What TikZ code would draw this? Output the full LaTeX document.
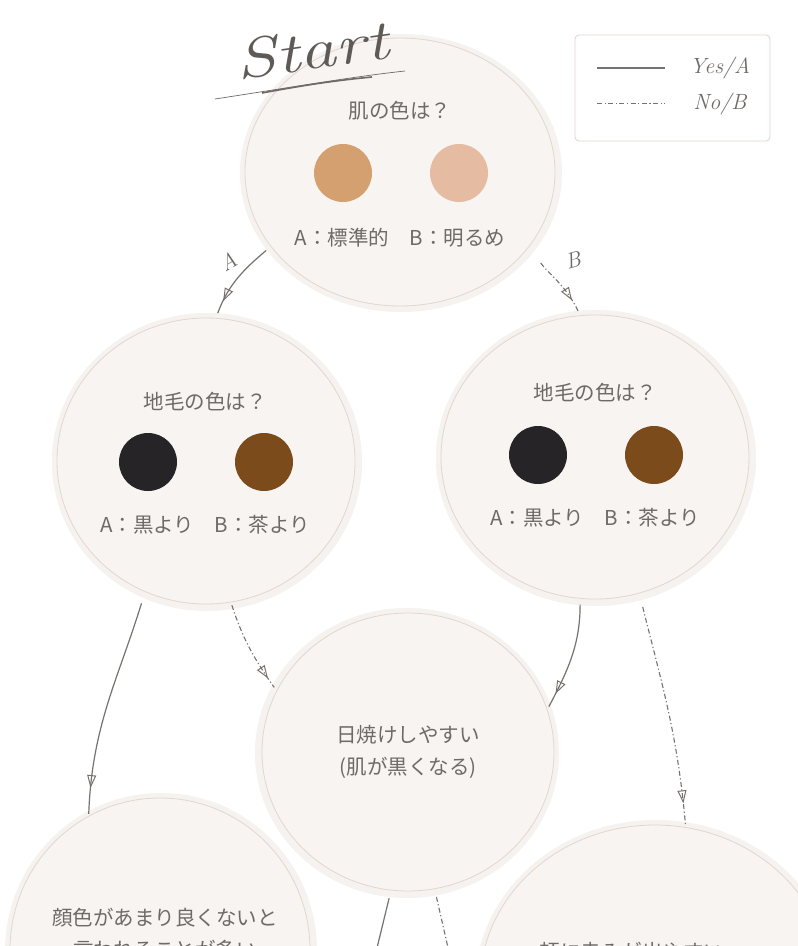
\documentclass[tikz,border=0pt]{standalone}
\usepackage{fontspec}
\newfontfamily\jp{Noto Sans CJK JP}
\usetikzlibrary{shapes.geometric,arrows.meta,decorations.markings}
\definecolor{bubble}{HTML}{F7F4F1}
\definecolor{rim}{HTML}{E3D7CD}
\definecolor{halo}{HTML}{F5F2EF}
\definecolor{ink}{HTML}{6E6A67}
\definecolor{pen}{HTML}{77726D}
\definecolor{skinA}{HTML}{D4A06F}
\definecolor{skinB}{HTML}{E5BCA1}
\definecolor{hairA}{HTML}{262426}
\definecolor{hairB}{HTML}{7B4B1B}
\tikzset{
  bubblebox/.style={ellipse, draw=rim, line width=0.8pt, fill=bubble, inner sep=0pt},
  dotbox/.style={circle, minimum size=58pt, inner sep=0pt},
  txt/.style={font=\jp\fontsize{20.5}{32}\selectfont, text=ink, align=center},
  hand/.style={font=\itshape\fontsize{22}{22}\selectfont, text=ink},
  yesline/.style={draw=pen, line width=1.2pt},
  noline/.style={draw=pen, line width=1.1pt, dash pattern=on 5pt off 2.5pt on 1.2pt off 2.5pt},
  tipat/.style={postaction={decorate}, decoration={markings, mark=at position #1 with {\arrow[solid,line width=1pt]{Triangle[open,length=13pt,width=9pt]}}}}
}
\begin{document}
\begin{tikzpicture}[x=1pt,y=1pt]
\clip (0,0) rectangle (798,-946);
\fill[white] (0,0) rectangle (798,-946);
% halos
\fill[halo] (401,-173) ellipse [x radius=161, y radius=139];
\fill[halo] (207,-462) ellipse [x radius=155, y radius=149];
\fill[halo] (596,-458) ellipse [x radius=160, y radius=148];
\fill[halo] (407,-753) ellipse [x radius=152, y radius=145];
\fill[halo] (161,-951) ellipse [x radius=156, y radius=158];
\fill[halo] (656,-986) ellipse [x radius=181, y radius=166];
% bubbles
\node[bubblebox, minimum width=310pt, minimum height=268pt] (q1) at (400,-172) {};
\node[bubblebox, minimum width=298pt, minimum height=286pt] (l1) at (206,-461) {};
\node[bubblebox, minimum width=308pt, minimum height=284pt] (r1) at (595,-457) {};
\node[bubblebox, minimum width=292pt, minimum height=278pt] (c1) at (408,-752) {};
\node[bubblebox, minimum width=300pt, minimum height=304pt] (b1) at (160,-950) {};
\node[bubblebox, minimum width=350pt, minimum height=320pt] (b2) at (655,-985) {};
% top bubble content
\node[txt] (q1t) at (400,-111) {肌の色は？};
\node[dotbox, fill=skinA] (q1a) at (343,-173) {};
\node[dotbox, fill=skinB] (q1b) at (459,-173) {};
\node[txt] (q1o) at (400,-238) {A：標準的　B：明るめ};
% left
\node[txt] (l1t) at (205,-402) {地毛の色は？};
\node[dotbox, fill=hairA] (l1a) at (148,-462) {};
\node[dotbox, fill=hairB] (l1b) at (264,-462) {};
\node[txt] (l1o) at (205,-525) {A：黒より　B：茶より};
% right
\node[txt] (r1t) at (595,-393) {地毛の色は？};
\node[dotbox, fill=hairA] (r1a) at (538,-455) {};
\node[dotbox, fill=hairB] (r1b) at (654,-455) {};
\node[txt] (r1o) at (595,-518) {A：黒より　B：茶より};
% center
\node[txt] (c1t) at (408,-752) {日焼けしやすい\\(肌が黒くなる)};
% bottom
\node[txt, anchor=north] (b1t) at (165,-905) {顔色があまり良くないと\\言われることが多い};
\node[txt, anchor=north] (b2t) at (632,-939) {頬に赤みが出やすい};
% Start
\node[font=\itshape\fontsize{56}{56}\selectfont, text=ink!85!black, rotate=8, xscale=1.3] (start) at (312,-50) {Start};
\draw[ink, line width=0.7pt] (215,-99) .. controls (300,-86) and (350,-77) .. (405,-71);
\draw[ink, line width=1.6pt] (262,-93) .. controls (300,-86) and (330,-81) .. (372,-77);
% legend
\node[draw=rim, rounded corners=4pt, line width=0.9pt, minimum width=195pt, minimum height=106pt, inner sep=0pt] (leg) at (672.5,-88) {};
\coordinate (ly1) at (597,-68);
\coordinate (ly2) at (665,-68);
\coordinate (ln1) at (597,-103);
\coordinate (ln2) at (665,-103);
\draw[yesline] (ly1) -- (ly2);
\draw[noline, line width=0.9pt] (ln1) -- (ln2);
\node[hand] (yes) at (720,-68) {Yes/A};
\node[hand] (no) at (720,-104) {No/B};
% connectors
\draw[yesline, tipat=0.8, shorten <=6pt, shorten >=5pt] (q1.210) to[out=-140,in=70] (l1.86);
\draw[noline, tipat=0.8, shorten <=20pt, shorten >=3pt] (q1.-30) to[out=-55,in=115] (r1.96);
\draw[yesline, tipat=0.88, shorten <=12pt, shorten >=2pt] (l1.245) to[out=-107,in=88] (b1.118);
\draw[noline, tipat=0.85, shorten <=3pt, shorten >=4pt] (l1.-80) to[out=-72,in=125] (c1.155);
\draw[yesline, tipat=0.85, shorten <=6pt, shorten >=3pt] (r1.264) to[out=-90,in=62] (c1.17.5);
\draw[noline, tipat=0.9, shorten <=14pt, shorten >=1pt] (r1.-72) to[out=-76,in=95] (b2.79);
\coordinate (e1) at (376,-952);
\coordinate (e2) at (449,-952);
\draw[yesline, shorten <=8pt] (c1.263) -- (e1);
\draw[noline, shorten <=8pt] (c1.-79) -- (e2);
\node[hand, rotate=30] (la) at (228,-262) {A};
\node[hand, rotate=15] (lb) at (573,-260) {B};
\end{tikzpicture}
\end{document}
